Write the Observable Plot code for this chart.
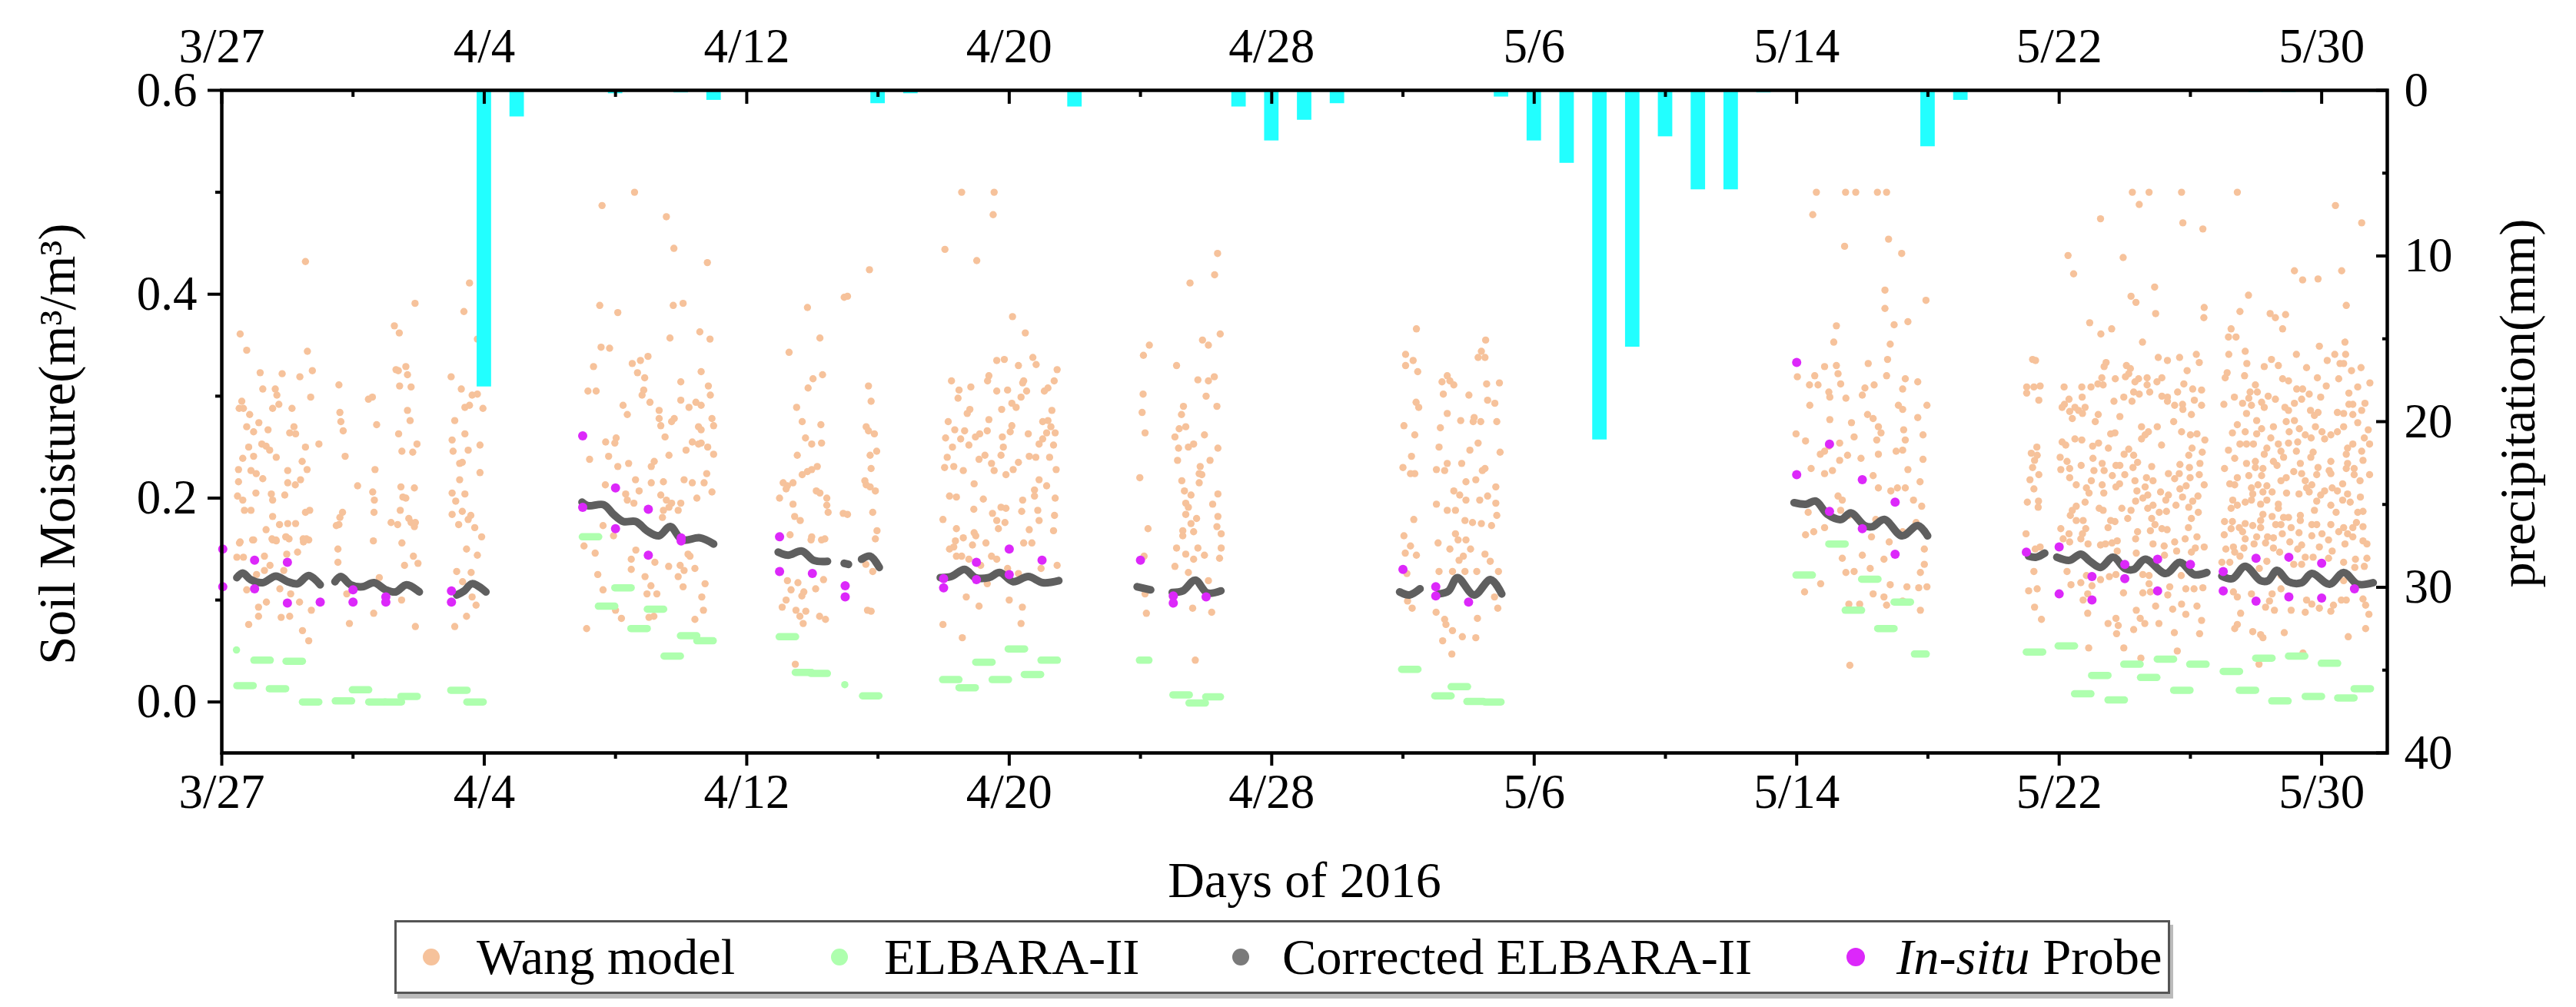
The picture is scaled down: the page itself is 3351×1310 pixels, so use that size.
<!DOCTYPE html>
<html><head><meta charset="utf-8">
<script src="https://cdn.jsdelivr.net/npm/d3@7"></script>
<script src="https://cdn.jsdelivr.net/npm/@observablehq/plot@0.6"></script>
<style>
html,body{margin:0;padding:0;background:#fff}
#wrap{position:relative;width:3351px;height:1310px;overflow:hidden;font-family:"Liberation Serif",serif;color:#000}
#legend{position:absolute;left:513px;top:1197px;width:2310px;height:96px;box-sizing:border-box;border:3px solid #555;box-shadow:4px 6px 0 #bbb;background:#fff}
.k{position:absolute;top:45px;border-radius:50%;transform:translate(-50%,-50%)}
.t{position:absolute;top:0;line-height:89px;font-size:66.5px;white-space:pre}
</style></head><body><div id="wrap"></div>
<script>
// x values are days after 3/27/2016; y values are soil moisture (m3/m3) or precipitation (mm)
const xTickDays=[0,8,16,24,32,40,48,56,64];
const xTickLabels=["3/27","4/4","4/12","4/20","4/28","5/6","5/14","5/22","5/30"];
const xMinorDays=[4,12,20,28,36,44,52,60];
const moistureTicks=[0,0.2,0.4,0.6];
const moistureMinor=[0.1,0.3,0.5];
const mmTicks=[0,10,20,30,40];
const mmMinor=[5,15,25,35];

const precipDays=[8,9,12,14,15,20,21,26,31,32,33,34,39,40,41,42,43,44,45,46,47,52,53,62,63];
const precipMm=[17.9,1.6,0.2,0.15,0.6,0.8,0.2,1.0,1.0,3.05,1.8,0.8,0.4,3.05,4.4,21.1,15.5,2.8,6.0,6.0,0.15,3.4,0.6,0.12,0.12];

const probe=[[0.03,.15],[0.03,.113],[1,.139],[1,.111],[2,.137],[2,.097],[3,.098],[4,.11],[4,.098],[5,.103],[5,.098],[7,.109],[7,.098],
[11,.261],[11,.191],[12,.21],[12,.17],[13,.189],[13,.144],[14,.161],[14,.158],[17,.162],[17,.128],[18,.126],[19,.114],[19,.103],
[22,.121],[22,.112],[23,.137],[23,.12],[24,.15],[24,.125],[25,.139],[28,.139],[29,.104],[29,.097],[30,.103],[36,.13],[37,.113],[37,.104],[38,.098],
[48,.333],[48,.223],[49,.253],[49,.187],[50,.218],[50,.17],[51,.196],[51,.145],[55,.147],[56,.152],[56,.106],[57,.123],[57,.1],[58,.135],[58,.121],[59,.14],[59,.109],[60,.135],
[61,.128],[61,.109],[62,.141],[62,.099],[63,.142],[63,.103],[64,.136],[64,.102],[65,.111]];

// ELBARA-II: [start day, end day, moisture]
const elbara=[[.46,.46,.051],[.47,.97,.016],[.99,1.49,.041],[1.46,1.96,.013],[1.97,2.47,.04],[2.47,2.97,0],[3.47,3.97,.001],[3.99,4.49,.012],[4.49,4.99,0],[4.99,5.49,0],[5.47,5.97,.0055],[6.99,7.49,.0115],[7.48,7.98,0],
[11,11.5,.162],[11.49,11.99,.094],[11.99,12.49,.112],[12.48,12.98,.072],[12.98,13.48,.091],[13.49,13.99,.045],[13.99,14.49,.065],[14.49,14.99,.06],
[17,17.5,.064],[17.49,17.99,.029],[17.97,18.47,.028],[19,19,.017],[19.54,20.04,.006],
[21.98,22.48,.022],[22.48,22.98,.014],[22.99,23.49,.039],[23.49,23.99,.022],[23.98,24.48,.052],[24.47,24.97,.027],[24.98,25.48,.041],
[27.98,28.27,.041],[29,29.5,.007],[29.49,29.99,-.001],[30,30.45,.005],
[35.97,36.47,.032],[36.98,37.48,.006],[37.48,37.98,.015],[37.96,38.46,.0005],[38.5,39,0],
[47.99,48.49,.1245],[48.99,49.49,.155],[49.49,49.99,.09],[49.99,50.49,.1205],[50.48,50.98,.072],[50.98,51.48,.098],[51.6,51.96,.047],
[55.01,55.51,.049],[55.98,56.48,.055],[56.48,56.98,.008],[57,57.5,.026],[57.5,58,.002],[57.98,58.48,.037],[58.49,58.99,.024],[59,59.5,.042],[59.5,60,.0115],[59.99,60.49,.037],
[61.01,61.51,.03],[61.5,62,.0115],[62,62.5,.043],[62.49,62.99,.001],[63,63.5,.045],[63.51,64.01,.0055],[64,64.5,.038],[64.5,65,.004],[65,65.5,.013]];

// Corrected ELBARA-II: one array per unbroken run
const corrected=[
[[.46,.122],[.64,.1265],[.88,.12],[1.24,.117],[1.65,.1235],[2.01,.118],[2.31,.116],[2.65,.124],[3,.115]],
[[3.45,.118],[3.63,.123],[3.93,.115],[4.29,.113],[4.64,.117],[5,.11],[5.3,.108],[5.63,.115],[6.02,.108]],
[[7.16,.105],[7.39,.109],[7.63,.116],[8.05,.108]],
[[10.98,.196],[11.16,.1925],[11.64,.1935],[11.94,.184],[12.24,.177],[12.62,.177],[12.96,.168],[13.32,.163],[13.67,.172],[14.03,.159],[14.57,.161],[14.99,.155]],
[[16.96,.147],[17.26,.144],[17.68,.148],[18.04,.139],[18.46,.138]],
[[18.97,.136],[19.1,.135]],
[[19.5,.14],[19.76,.143],[20.04,.132]],
[[21.9,.122],[22.23,.123],[22.64,.13],[22.97,.122],[23.38,.122],[23.71,.127],[24.12,.118],[24.58,.123],[25.02,.117],[25.51,.119]],
[[27.9,.113],[28.31,.11]],
[[28.97,.1075],[29.29,.109],[29.67,.1195],[30.03,.107],[30.45,.109]],
[[35.9,.108],[36.2,.105],[36.52,.111]],
[[37.09,.106],[37.39,.109],[37.66,.122],[38.17,.105],[38.67,.12],[39.01,.106]],
[[47.92,.1955],[48.28,.194],[48.58,.197],[48.94,.184],[49.35,.179],[49.65,.1855],[50.07,.173],[50.31,.172],[50.67,.179],[51.21,.163],[51.69,.173],[51.99,.163]],
[[55.07,.143],[55.3,.142],[55.56,.146]],
[[55.93,.142],[56.32,.139],[56.66,.145],[56.94,.138],[57.26,.132],[57.65,.142],[58,.131],[58.27,.13],[58.62,.14],[59.25,.126],[59.68,.137],[60.11,.125],[60.5,.127]],
[[60.96,.1235],[61.28,.121],[61.67,.133],[62.14,.119],[62.37,.119],[62.64,.129],[62.99,.118],[63.39,.117],[63.7,.126],[64.24,.1155],[64.67,.127],[65.1,.1155],[65.57,.117]]
];

// Wang model, by observing period
const wang1=[[.56,.361],[.76,.345],[1.17,.323],[1.84,.322],[2.55,.432],[2.61,.344],[2.76,.325],[2.38,.319],[1.25,.307],[1.63,.307],[1.68,.301],[.61,.295],[.53,.288],[.66,.288],[.85,.282],[1.74,.292],[1.55,.288],[2.14,.288],[2.71,.299],[1.13,.274],[.76,.27],[.97,.265],[1.41,.267],[2.2,.27],[2.07,.264],[2.25,.263],[2.96,.253],[2.55,.25],[1.22,.253],[.82,.25],[1.35,.251],[.64,.239],[.97,.241],[1.46,.247],[1.66,.24],[2.45,.236],[.51,.228],[.89,.227],[1.05,.224],[1.25,.219],[2.01,.227],[2.6,.228],[2.4,.218],[.51,.216],[2.24,.213],[2.01,.215],[.48,.202],[.64,.198],[1.04,.205],[1.51,.204],[1.55,.198],[1.92,.203],[.69,.188],[.89,.188],[1.55,.182],[2.68,.188],[2.55,.186],[1.35,.169],[2.01,.175],[2.25,.175],[1.76,.174],[2.48,.16],[2.65,.159],[.97,.159],[.56,.157],[1.55,.159],[1.66,.158],[1.96,.162],[2.05,.16],
[.46,.142],[.66,.142],[1.3,.143],[.54,.156],[.94,.159],[1.53,.16],[1.65,.159],[1.95,.162],[1.98,.145],[2.31,.147],[2.49,.157],[2.58,.16],[1.47,.134],[1.3,.129],[1.06,.125],[1.89,.129],[.76,.11],[1.77,.111],[2.1,.106],[1.36,.098],[1.12,.093],[2.37,.098],[2.73,.09],[1.12,.084],[.82,.076],[1.81,.083],[2.07,.084],[2.46,.07],[2.65,.06]];
const wang2=[[3.57,.311],[3.6,.284],[3.63,.275],[3.7,.266],[4.47,.297],[4.59,.299],[4.72,.272],[5.26,.369],[5.41,.362],[5.31,.326],[5.61,.329],[5.38,.325],[5.66,.321],[5.42,.31],[5.77,.309],[5.66,.286],[5.74,.276],[5.39,.263],[5.89,.391],[5.95,.253],[5.49,.246],[5.82,.245],[3.76,.241],[4.67,.228],[4.14,.212],[4.6,.206],[4.65,.198],[4.64,.186],[5.46,.211],[5.87,.21],[5.52,.201],[5.61,.2],[5.44,.188],[3.68,.186],[3.6,.181],[3.49,.173],[3.57,.174],[5.16,.176],[5.36,.174],[5.7,.18],[5.77,.176],[5.9,.176],[5.87,.172],[4.62,.158],[5.49,.156],[3.54,.15],[3.54,.137],[5.84,.143],[5.98,.136],[5.57,.134],[4.8,.122],[3.81,.106],[5.48,.1],[4.63,.087],[3.89,.077],[5.9,.074]];
const wang3=[[7.55,.411],[7.38,.383],[7.79,.356],[6.99,.319],[7.3,.307],[7.63,.301],[7.79,.302],[7.96,.288],[7.55,.291],[7.41,.289],[7.1,.276],[7.41,.263],[7.87,.252],[7.02,.257],[7.05,.246],[7.51,.247],[7.25,.234],[7.33,.235],[7.87,.225],[7.25,.218],[7.02,.205],[7.41,.204],[7.13,.197],[7.02,.184],[7.33,.187],[7.59,.183],[7.51,.179],[7.22,.174],[7.71,.171],[7.92,.162],[7.46,.15],[7.79,.144],[7.16,.128],[7.6,.127],[7.34,.118],[7.63,.103],[7.75,.095],[7.46,.084],[7.1,.074]];
const wang4=[[11.59,.487],[12.58,.5],[13.55,.476],[13.78,.445],[14.8,.431],[11.52,.389],[12.07,.382],[13.76,.389],[14.06,.391],[13.66,.357],[14.57,.363],[14.88,.356],[11.56,.348],[11.82,.347],[11.33,.329],[12.51,.332],[12.76,.335],[12.99,.339],[12.67,.323],[12.89,.318],[12.86,.306],[12.81,.301],[14.61,.324],[13.99,.314],[14.83,.31],[14.89,.301],[11.16,.305],[11.41,.305],[13.99,.296],[13.05,.294],[12.23,.291],[12.36,.282],[13.33,.286],[13.33,.278],[13.79,.278],[13.71,.275],[14.24,.289],[14.45,.294],[14.61,.291],[14.94,.278],[13.38,.271],[14.53,.27],[14.61,.267],[14.99,.271],[13.51,.26],[11.7,.255],[12.02,.259],[11.98,.254],[14.34,.255],[14.61,.254],[14.15,.247],[14.53,.253],[14.81,.25],[14.99,.243],[13.63,.242],[11.21,.238],[11.79,.241],[12.07,.231],[12.4,.234],[13.18,.236],[13.09,.231],[14.09,.218],[14.34,.215],[14.78,.224],[12.61,.218],[11.69,.213],[12.31,.204],[12.72,.207],[13.09,.215],[13.46,.216],[14.7,.215],[14.94,.206],[12.36,.198],[12.56,.195],[13.38,.203],[13.55,.198],[13.71,.195],[13.99,.195],[14.48,.2],[13.46,.188],[13.43,.181],[13.63,.191],[13.91,.188],
[11.62,.173],[11.94,.163],[11.04,.153],[11.38,.146],[12.62,.149],[12.48,.14],[12.48,.13],[13.2,.137],[11.46,.125],[12.9,.123],[13.62,.133],[13.97,.134],[14.09,.129],[13.91,.123],[14.42,.131],[14.21,.145],[14.27,.143],[13.08,.114],[11.62,.11],[12.96,.106],[13.26,.106],[14.06,.113],[14.73,.116],[14.63,.103],[14.68,.09],[12,.09],[12.18,.082],[13.02,.083],[13.17,.084],[14.42,.081],[11.12,.072]];
const wang5=[[17.85,.387],[18.97,.397],[18.23,.357],[17.29,.343],[18.31,.321],[18.02,.317],[17.87,.308],[17.52,.289],[17.69,.275],[18.26,.272],[17.79,.259],[17.54,.242],[17.98,.253],[18.28,.254],[18.15,.231],[17.98,.228],[17.85,.226],[17.69,.223],[17.24,.212],[17.41,.215],[17.2,.209],[17.11,.215],[17,.2],[17.41,.194],[18.12,.207],[18.23,.205],[18.44,.2],[18.44,.193],[18.48,.186],[18.94,.185],[17.63,.178],[17.46,.182],[18.28,.159],[17.98,.162],[17.32,.164],[17.96,.159],[18.38,.16],[17.24,.119],[17.56,.117],[17.35,.11],[18.1,.111],[17.74,.108],[18.34,.12],[17.08,.093],[17.2,.1],[17.5,.09],[17.68,.104],[17.8,.089],[17.62,.084],[17.72,.077],[18.22,.084],[18.4,.081],[17.48,.037],
[19.07,.398],[19.74,.424],[19.71,.31],[19.79,.295],[19.64,.27],[19.71,.266],[19.89,.263],[19.96,.246],[19.76,.242],[19.79,.229],[19.6,.217],[19.64,.213],[19.76,.211],[19.92,.207],[19.07,.184],[19.84,.186],[19.97,.168],[19.92,.16],[19.63,.135],[19.84,.128],[19.68,.09],[19.79,.089]];
const wang6=[[22.55,.5],[23.54,.5],[23.51,.478],[22.04,.444],[23.01,.433],[24.1,.378],[24.49,.362],[24.72,.338],[24.82,.331],[23.62,.335],[23.85,.336],[24.28,.33],[25.46,.326],[23.38,.32],[23.34,.315],[22.24,.315],[24.44,.315],[24.41,.313],[25.37,.315],[25.18,.308],[25.07,.305],[22.83,.309],[22.47,.306],[22.44,.298],[23.62,.305],[23.95,.306],[24.53,.305],[24.36,.299],[24.08,.293],[24.21,.289],[23.77,.287],[22.8,.287],[22.72,.283],[25.3,.286],[22.14,.275],[23.38,.277],[22.34,.267],[22.64,.266],[24.08,.271],[25.02,.275],[25.18,.276],[25.27,.27],[25.14,.264],[25.4,.264],[23.1,.263],[22.97,.26],[23.33,.266],[24.03,.265],[23.79,.26],[24.58,.263],[22.06,.259],[22.52,.258],[25.02,.258],[22.27,.25],[22.77,.252],[23.82,.25],[24.91,.253],[25.35,.252],[24.61,.241],[24.81,.24],[25.23,.24],[23.26,.242],[23.08,.238],[23.75,.242],[22.11,.24],[22.31,.231],[22.03,.23],[23.46,.234],[23.54,.227],[24.28,.235],[24.12,.228],[23.9,.223],[22.6,.227],[25.43,.228],[24.91,.218],[22.93,.214],[25.14,.212],[24.77,.208],[22.18,.202],[22.39,.201],[23.21,.199],[24.77,.202],[24.41,.198],[25.4,.2],[22.92,.189],[23.75,.191],[23.9,.19],[23.49,.185],[24.38,.187],[24.87,.188],[23.62,.178],[23.87,.176],[25.38,.183],[24.91,.178],[21.98,.179],[23.67,.17],[22.39,.17],[22.93,.166],[22.98,.163],[24.61,.169],[25.35,.168],[22.6,.161],[22.36,.158],[22.31,.152],[24.44,.156],[24.69,.156],[23.29,.156],[22.88,.154],[22.18,.15],[22.39,.143],[22.55,.143],[22.77,.14],[23.46,.143],[23.62,.14],[25.46,.134],[23.13,.134],[23.95,.131],[24.28,.126],[24.97,.131],[23.33,.116],[22.69,.103],[24,.1],[23.08,.094],[24.4,.093],[21.98,.076],[24.36,.077],[22.57,.063]];
const wang7=[[28.27,.35],[28.09,.34],[28.08,.302],[28.05,.284],[28.14,.264],[27.98,.22],[28.23,.17],[28.11,.143],[28.14,.106],[28.18,.087],[30.35,.44],[30.26,.419],[29.51,.411],[29.89,.355],[30.07,.35],[30.43,.361],[29.1,.33],[30.25,.319],[29.75,.316],[30.07,.315],[30,.3],[30.33,.29],[29.31,.29],[29.25,.282],[29.38,.27],[29.18,.268],[29.05,.26],[29.95,.262],[29.16,.249],[29.46,.25],[29.62,.253],[30.36,.249],[29.13,.237],[30.12,.237],[29.82,.231],[29.79,.224],[29.87,.223],[29.26,.217],[29.79,.215],[29.34,.207],[29.54,.203],[29.38,.195],[29.46,.191],[30.36,.204],[30.2,.194],[29.38,.184],[29.71,.18],[29.54,.175],[30.36,.182],[29.29,.168],[30.33,.172],[30.46,.165],[29.62,.167],[29.29,.163],[29.1,.151],[29.75,.151],[30.46,.151],[29.38,.145],[29.95,.144],[29.62,.14],[30.41,.141],[29.05,.133],[29.46,.127],[30.07,.119],[29.59,.092],[30.17,.088],[29.67,.041]];
const wang8=[[36.41,.366],[36.08,.341],[36.31,.335],[36.08,.33],[36.45,.324],[36.4,.294],[36.48,.289],[36.03,.271],[36.36,.262],[36.26,.241],[36,.23],[36.23,.224],[36.36,.224],[36.33,.179],[36.03,.163],[36.23,.153],[36.07,.146],[36.41,.144],[36.12,.126],[36.28,.092],[38.52,.355],[38.39,.344],[38.29,.338],[38.5,.338],[37.35,.32],[37.19,.314],[37.43,.315],[37.55,.311],[38.55,.312],[38.94,.313],[37.23,.302],[38.01,.301],[38.58,.296],[38.8,.293],[37.35,.283],[37.76,.276],[38.17,.279],[38.14,.275],[38.37,.275],[38.86,.275],[37.14,.269],[38.29,.254],[37.1,.25],[38.04,.247],[38.96,.245],[37.35,.234],[37.79,.234],[37.02,.228],[37.27,.227],[38.5,.229],[38.42,.227],[38.22,.218],[37.92,.216],[37.55,.207],[37.73,.203],[37.92,.198],[38.83,.211],[38.58,.202],[38.34,.198],[38.83,.195],[37.02,.194],[37.35,.188],[37.6,.188],[38.86,.183],[37.89,.178],[38.12,.176],[38.39,.175],[38.7,.173],[37.6,.165],[37.68,.159],[37.92,.159],[37.07,.156],[37.43,.15],[38.06,.15],[38.5,.145],[37.84,.143],[37.71,.139],[38.66,.138],[37.1,.128],[37.51,.128],[37.89,.128],[38.25,.128],[38.91,.128],[36.14,.099],[37.01,.088],[37.27,.081],[37.31,.076],[37.51,.07],[37.21,.06],[37.81,.064],[38.22,.063],[38.27,.082],[37.49,.047],[38.79,.103],[38.89,.092]];
const wang9=[[48.6,.5],[49.49,.5],[49.8,.5],[50.46,.5],[50.74,.5],[48.49,.478],[50.8,.454],[49.46,.447],[51.2,.44],[50.69,.404],[51.94,.394],[50.69,.386],[51.39,.373],[49.21,.369],[50.97,.37],[49.13,.353],[50.85,.351],[50.77,.336],[48.85,.329],[49.21,.33],[50.18,.332],[48.02,.319],[48.55,.32],[49.26,.322],[50.74,.32],[51.31,.317],[51.69,.314],[49.34,.312],[48.39,.311],[48.65,.311],[48.98,.304],[50.36,.311],[50.08,.308],[50,.301],[49.01,.299],[49.5,.298],[51.23,.307],[48.4,.291],[50.16,.282],[50.33,.278],[51.1,.291],[51.23,.287],[51.97,.291],[49.01,.277],[50.49,.27],[49.67,.274],[51.69,.279],[50.57,.264],[51.26,.267],[47.98,.263],[48.27,.256],[51.85,.262],[49.75,.26],[49.31,.254],[50.44,.257],[48.98,.251],[51.31,.257],[48.85,.246],[48.72,.243],[49.55,.242],[51.03,.246],[50.49,.243],[51.23,.247],[49.96,.239],[48.44,.229],[51.85,.238],[49.31,.237],[48.85,.224],[49.09,.227],[50.33,.222],[51.39,.228],[51.76,.216],[50.49,.21],[51.07,.21],[50.87,.207],[51.31,.21],[49.26,.202],[49.39,.198],[51.56,.198],[51.81,.192],[48.35,.186],[49.34,.188],[49.59,.183],[50.41,.179],[51.64,.176],[48.85,.171],[48.27,.164],[48.52,.167],[50.28,.162],[51.23,.167],[50.82,.157],[51.89,.15],[50,.144],[49.39,.141],[50.66,.14],[51.89,.135],[49.5,.127],[49.75,.128],[50.24,.131],[51.77,.127],[50.85,.115],[51.36,.113],[51.72,.112],[51.97,.113],[48.24,.108],[48.73,.116],[50.33,.106],[49.92,.096],[49.59,.096],[50.66,.103],[50.74,.095],[51.23,.099],[51.77,.09],[49.62,.036]];
const wang10=[[58.23,.5],[58.74,.5],[59.73,.5],[58.44,.488],[57.26,.474],[59.77,.47],[60.38,.464],[56.27,.438],[57.95,.436],[56.44,.42],[58.91,.407],[58.19,.398],[58.34,.392],[60.42,.387],[58.94,.381],[60.41,.377],[56.93,.372],[57.6,.366],[57.27,.361],[58.54,.353],
[55.19,.336],[55.28,.335],[59.02,.338],[59.3,.335],[59.67,.338],[60.18,.341],[60.27,.333],[57.43,.333],[57.37,.329],[58.05,.33],[58.17,.327],[58.12,.322],[59.9,.325],[58.02,.319],[57.3,.318],[55.01,.309],[55.23,.309],[55.42,.31],[55.01,.303],[56.15,.309],[56.69,.309],[56.97,.309],[57.18,.312],[57.34,.311],[57.71,.317],[58.31,.314],[58.42,.317],[58.68,.318],[58.68,.311],[58.76,.304],[58.98,.314],[59.13,.318],[59.8,.312],[60.07,.307],[60.34,.306],[59.61,.304],[58.27,.304],[58.44,.302],[55.38,.296],[56.7,.299],[56.3,.297],[56.16,.292],[56.09,.289],[57.67,.295],[57.97,.299],[58.22,.295],[59.13,.3],[59.3,.299],[59.3,.295],[59.52,.291],[59.76,.292],[59.77,.287],[60.12,.296],[60.34,.291],[56.48,.289],[56.59,.286],[56.79,.289],[56.71,.283],[56.32,.285],[56.4,.278],[57.19,.282],[57.1,.275],[57.85,.28],[60.03,.282],[59.49,.275],[58.51,.27],[58.99,.27],[58.72,.265],[58.62,.262],[58.51,.258],[59.73,.265],[60,.262],[60.2,.263],[57.57,.263],[57.7,.264],[56.09,.255],[56.2,.252],[56.48,.258],[56.69,.257],[57.02,.251],[57.2,.254],[57.5,.249],[59.12,.252],[60.44,.257],[55.32,.25],[58.12,.248],[57.98,.243],[60.05,.249],[60.36,.245],[55.15,.244],[55.33,.242],[55.25,.237],[55.19,.23],[56.03,.24],[56.24,.236],[57.03,.239],[57.31,.234],[58.27,.242],[58.39,.235],[58.25,.23],[59.95,.242],[59.68,.233],[60.29,.234],[58.82,.231],[56.05,.228],[56.32,.229],[56.67,.232],[57.06,.227],[57.37,.227],[57.73,.232],[57.62,.222],[57.85,.232],[59.97,.23],[59.33,.224],[59.66,.224],[59.52,.219],[60.27,.223],[55.38,.223],[55.11,.218],[58,.223],[58.66,.22],[58.31,.217],[58.86,.217],[59.99,.22],[56.32,.22],[56.52,.213],[56.98,.217],[57.31,.213],[57.84,.214],[57.73,.211],[59.87,.212],[60.42,.213],[59.68,.209],[55.23,.209],[56.83,.21],[56.91,.205],[57.36,.205],[58.37,.207],[58.62,.211],[58.7,.203],[59.09,.206],[59.33,.203],[59.25,.198],[59.76,.201],[60.23,.202],[58.55,.2],[55.03,.196],[55.37,.197],[55.36,.191],[56.79,.196],[56.52,.192],[56.4,.188],[56.34,.183],[57.22,.19],[57.34,.188],[57.91,.19],[58.33,.197],[58.19,.188],[58.7,.19],[58.86,.193],[59.05,.186],[59.27,.187],[59.56,.193],[59.95,.191],[60.07,.197],[60.24,.186],[58.09,.18],[60.03,.18],[56.52,.178],[56.73,.178],[57.57,.178],[57.7,.177],[58.82,.18],[58.92,.174],[57.49,.171],[56.05,.17],[56.81,.17],[56.3,.165],[56.71,.165],[58.39,.167],[58.78,.168],[59.13,.17],[59.29,.169],[59.94,.171],[54.99,.165],[56.12,.16],[56.66,.16],[58.33,.16],[59.84,.16],[60.2,.162],[56.32,.157],[56.88,.155],[57.26,.154],[57.41,.155],[57.61,.156],[57.77,.158],[58.86,.155],[59.2,.153],[59.52,.157],[60.42,.152],[55.42,.152],[55.27,.15],[59.58,.148],[60.15,.151],[58.35,.146],[59.21,.144],[60.03,.147],[57.77,.148],[56.24,.128],[55.23,.128],[56.66,.117],[56.83,.124],[57.26,.12],[57.53,.123],[57.73,.125],[58.55,.125],[58.74,.124],[58.74,.116],[59.37,.113],[59.72,.124],[60.11,.111],[60.38,.112],[56.36,.115],[57,.114],[57.96,.107],[55.07,.109],[55.33,.111],[58.55,.107],[58.78,.108],[59.31,.105],[59.86,.111],[56.73,.1],[56.87,.106],[55.25,.093],[56.87,.087],[58.94,.094],[59.46,.091],[59.73,.096],[60.2,.094],[59.86,.086],[58.35,.09],[55.46,.081],[57.49,.077],[57.73,.082],[57.8,.075],[58.47,.082],[58.61,.077],[59.04,.077],[60.34,.08],[57.75,.067],[58.27,.071],[59.51,.068],[60.28,.067],[56.9,.053],[57.97,.053],[59.6,.05],[58.49,.043]];
const wang11=[[61.43,.5],[64.42,.487],[65.22,.47],[63.17,.423],[63.42,.414],[63.89,.415],[64.61,.423],[61.77,.399],[64.75,.389],[61.51,.383],[62.43,.381],[62.59,.377],[62.9,.38],[62.81,.366],[61.24,.366],[61.16,.358],[61.39,.358],[63.93,.349],[64.71,.353],[61.17,.341],[61.67,.344],[63.23,.341],[64.4,.341],[64.73,.341],[61.72,.332],[62.47,.336],[62.25,.329],[62.68,.33],[63.54,.328],[64.17,.335],[64.56,.332],[64.67,.332],[64.91,.325],[65.2,.328],[61.12,.323],[61.06,.318],[61.65,.32],[62.81,.317],[62.99,.315],[63.87,.318],[64.52,.317],[61.98,.311],[61.82,.304],[62.04,.304],[63.24,.307],[63.42,.307],[63.62,.302],[64.14,.31],[65.1,.309],[65.47,.313],[64.83,.303],[61.34,.299],[61.02,.292],[61.78,.298],[62.37,.3],[62.59,.297],[63.97,.299],[63.39,.297],[63.17,.293],[61.59,.293],[61.86,.291],[62.17,.294],[62.25,.289],[65.32,.293],[64.83,.292],[64.95,.292],[62.88,.289],[62.99,.286],[63.66,.286],[63.89,.284],[63.78,.281],[64.48,.284],[64.67,.283],[64.95,.282],[65.22,.286],[61.71,.283],[62.02,.276],[61.43,.272],[62.92,.275],[63.17,.276],[65.1,.274],[61.28,.264],[61.67,.265],[62.17,.268],[62.02,.263],[62.53,.27],[63.01,.265],[63.32,.268],[63.81,.27],[64.67,.27],[65.42,.267],[63.5,.262],[63.68,.259],[64.01,.265],[64.09,.258],[64.28,.262],[64.48,.265],[65.3,.259],[61.51,.253],[61.71,.253],[61.92,.253],[62.45,.259],[62.68,.253],[62.99,.254],[63.27,.255],[64.95,.253],[65.46,.253],[64.79,.249],[61.16,.247],[62.33,.249],[62.25,.243],[62.76,.246],[63.23,.246],[63.74,.245],[64.75,.243],[65.22,.246],[61.35,.239],[62.84,.24],[63.67,.24],[65.26,.237],[61.71,.234],[61.98,.236],[62.53,.236],[63.35,.234],[64.28,.236],[64.79,.234],[61.98,.23],[62.64,.232],[62.21,.229],[61.04,.229],[63.89,.23],[64.23,.227],[64.75,.229],[64.99,.229],[62.17,.222],[63.15,.226],[63.39,.224],[63.85,.223],[64.28,.224],[65.46,.223],[61.43,.22],[61.78,.222],[63.5,.217],[64.99,.223],[65.17,.217],[62.76,.217],[62.92,.22],[61.2,.214],[61.35,.213],[62.06,.213],[62.33,.212],[64.64,.214],[61.86,.21],[63.7,.213],[63.54,.21],[61.9,.204],[62.21,.206],[62.49,.206],[62.93,.205],[63.31,.204],[63.62,.206],[64.09,.207],[64.32,.21],[64.48,.207],[64.79,.204],[65.18,.201],[61.29,.198],[63.97,.203],[61.86,.198],[62.33,.198],[64.64,.198],[64.87,.196],[61.43,.193],[61.67,.196],[62.14,.194],[62.68,.194],[63.85,.197],[64.28,.193],[61.24,.19],[62.68,.19],[63.78,.188],[64.44,.186],[65.1,.186],[65.26,.187],[62.21,.184],[62.49,.182],[63.35,.183],[61.04,.177],[61.28,.177],[62.14,.178],[62.84,.181],[62.99,.181],[63.35,.178],[61.67,.175],[61.9,.173],[62.6,.174],[62.76,.174],[63.7,.174],[63.85,.174],[65.06,.176],[61.24,.17],[61.49,.171],[62.14,.171],[63.07,.171],[64.28,.174],[64.67,.171],[64.95,.171],[65.26,.172],[61.03,.164],[61.59,.167],[62.02,.162],[62.35,.162],[62.8,.165],[63.31,.166],[63.7,.163],[64.01,.165],[64.52,.167],[64.79,.165],[61.67,.16],[62.53,.161],[64.21,.159],[64.95,.162],[61.08,.15],[61.31,.152],[61.94,.155],[62.29,.156],[63.03,.157],[63.39,.154],[63.93,.152],[64.71,.155],[65.26,.158],[65.38,.155],[61.63,.151],[61.35,.147],[62.53,.151],[63.27,.15],[64.32,.148],[61.51,.143],[62.72,.147],[63.5,.142],[63.74,.142],[64.21,.141],[65.38,.141],[62.33,.138],[60.96,.137],[61.2,.137],[63.15,.135],[63.39,.135],[64.67,.137],[65.03,.14],[62.1,.131],[65.3,.133],[65.01,.132],[62.76,.124],[61.31,.108],[61.43,.103],[61.86,.106],[62.49,.106],[64.67,.119],[62.41,.099],[62.76,.111],[63.54,.1],[64.6,.1],[64.75,.1],[62.29,.093],[63.07,.09],[62.56,.09],[63.5,.088],[63.7,.096],[63.93,.092],[64.36,.095],[64.28,.089],[65.26,.101],[65.34,.095],[65.44,.086],[61.53,.087],[61.43,.076],[61.35,.072],[61.9,.069],[62.14,.066],[62.21,.063],[62.86,.068],[64.81,.064],[65.34,.072],[62.09,.037],[63.43,.048]];

const colors={wang:"#f6c29b",elbara:"#aeffae",corrected:"#5f5f5f",probe:"#dc28fa",rain:"#22ffff"};
const font="Liberation Serif";
const moistureTop=0.6, moistureBottom=-0.05, mmMax=40;
const mmToY=mm=>moistureTop-mm*(moistureTop-moistureBottom)/mmMax;

const wang=[wang1,wang2,wang3,wang4,wang5,wang6,wang7,wang8,wang9,wang10,wang11].flat();
const correctedRows=corrected.flatMap((run,i)=>run.map(([day,v])=>({day,v,run:i})));
const rain=precipDays.map((day,i)=>({day,mm:precipMm[i]}));
const xLab=d=>xTickLabels[xTickDays.indexOf(d)];
const blank=()=>"";
const F=63;

const chart=Plot.plot({
  width:3351,height:1190,
  marginLeft:288,marginRight:246,marginTop:117,marginBottom:211,
  style:{background:"#fff",fontFamily:font,color:"#000",overflow:"visible"},
  x:{domain:[0,66]},
  y:{domain:[moistureBottom,moistureTop]},
  marks:[
    Plot.dot(wang,{x:d=>d[0],y:d=>d[1],r:4.7,fill:colors.wang}),
    Plot.ruleY(elbara,{y:d=>d[2],x1:d=>d[0],x2:d=>d[1],stroke:colors.elbara,strokeWidth:9.5,strokeLinecap:"round"}),
    Plot.line(correctedRows,{x:"day",y:"v",z:"run",curve:"catmull-rom",stroke:colors.corrected,strokeWidth:10,strokeLinecap:"round",strokeLinejoin:"round"}),
    Plot.dot(probe,{x:d=>d[0],y:d=>d[1],r:6,fill:colors.probe}),
    Plot.rect(rain,{x1:d=>d.day-.22,x2:d=>d.day+.22,y1:mmToY(0),y2:d=>mmToY(d.mm),fill:colors.rain}),
    Plot.frame({stroke:"#000",strokeWidth:4.5}),
    // bottom
    Plot.axisX({anchor:"bottom",ticks:xTickDays,tickSize:17,tickPadding:10,tickFormat:xLab,fontSize:F,strokeWidth:4,label:null}),
    Plot.axisX({anchor:"bottom",ticks:xMinorDays,tickSize:8,tickFormat:blank,strokeWidth:4,label:null}),
    // top
    Plot.axisX({anchor:"top",ticks:xTickDays,tickSize:0,tickPadding:37,tickFormat:xLab,fontSize:F,label:null}),
    Plot.axisX({anchor:"top",ticks:xTickDays,tickSize:-17,tickFormat:blank,strokeWidth:4,label:null}),
    Plot.axisX({anchor:"top",ticks:xMinorDays,tickSize:-8,tickFormat:blank,strokeWidth:4,label:null}),
    // left
    Plot.axisY({anchor:"left",ticks:moistureTicks,tickSize:18,tickPadding:14,tickFormat:d3.format(".1f"),fontSize:F,strokeWidth:4,label:null}),
    Plot.axisY({anchor:"left",ticks:moistureMinor,tickSize:8,tickFormat:blank,strokeWidth:4,label:null}),
    // right (precipitation, 0 at the top)
    Plot.axisY({anchor:"right",ticks:mmTicks.map(mmToY),tickSize:0,tickPadding:22,tickFormat:(v,i)=>String(mmTicks[i]),fontSize:F,label:null}),
    Plot.axisY({anchor:"right",ticks:mmTicks.map(mmToY),tickSize:-15,tickFormat:blank,strokeWidth:4,label:null}),
    Plot.axisY({anchor:"right",ticks:mmMinor.map(mmToY),tickSize:-7,tickFormat:blank,strokeWidth:4,label:null}),
    // titles
    Plot.text(["Soil Moisture(m³/m³)"],{frameAnchor:"left",textAnchor:"middle",rotate:-90,dx:-213,dy:29,fontSize:67,fill:"#000"}),
    Plot.text(["precipitation(mm)"],{frameAnchor:"right",textAnchor:"middle",rotate:-90,dx:170,dy:-24,fontSize:66,fill:"#000"}),
    Plot.text(["Days of 2016"],{frameAnchor:"bottom",textAnchor:"middle",dy:187,fontSize:66,fill:"#000"})
  ]
});
const wrap=document.getElementById("wrap");
wrap.appendChild(chart);
const legendItems=[
  {label:"Wang model",c:colors.wang,kx:45,tx:104,d:22},
  {label:"ELBARA-II",c:colors.elbara,kx:576,tx:634,d:22},
  {label:"Corrected ELBARA-II",c:"#7a7a7a",kx:1098,tx:1152,d:22},
  {label:"<i>In-situ</i> Probe",c:colors.probe,kx:1898,tx:1951,d:24}
];
const lg=document.createElement("div");lg.id="legend";
legendItems.forEach(it=>{
  const k=document.createElement("div");k.className="k";k.style.left=it.kx+"px";k.style.width=k.style.height=it.d+"px";k.style.background=it.c;lg.appendChild(k);
  const t=document.createElement("div");t.className="t";t.style.left=it.tx+"px";t.innerHTML=it.label;lg.appendChild(t);
});
wrap.appendChild(lg);
</script></body></html>
